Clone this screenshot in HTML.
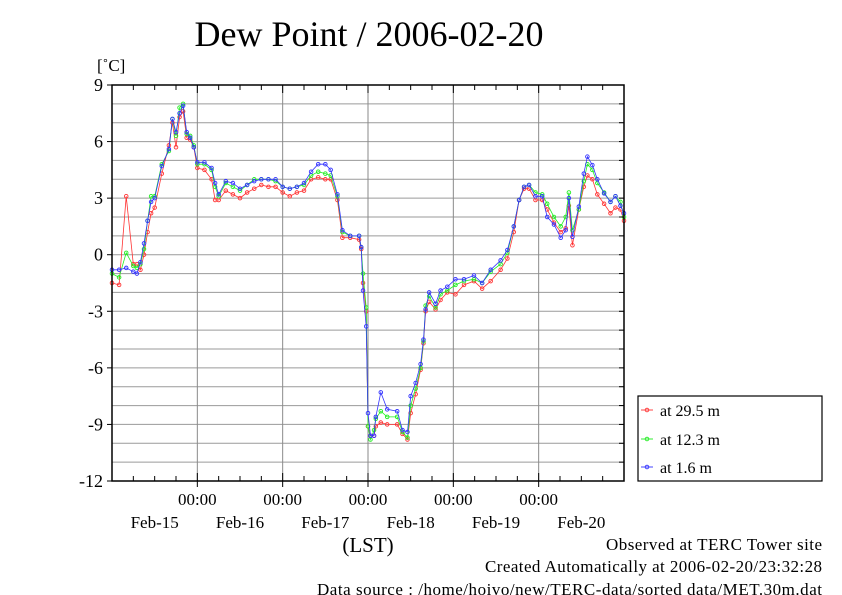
<!DOCTYPE html>
<html><head><meta charset="utf-8"><style>
body{margin:0;background:#fff;}
svg{display:block;font-family:"Liberation Serif",serif;}
</style></head><body>
<svg id="chart" width="842" height="595" viewBox="0 0 842 595" xmlns="http://www.w3.org/2000/svg">
<rect width="842" height="595" fill="#fff"/>
<text x="369" y="46" font-size="36" text-anchor="middle">Dew Point / 2006-02-20</text>
<text x="97" y="71" font-size="17">[˚C]</text>
<g id="grid"></g>
<g id="series"></g>
<rect x="112" y="85" width="512" height="396" fill="none" stroke="#000" stroke-width="1.5"/>
<g id="axes"></g>
<text x="368" y="552" font-size="21" text-anchor="middle">(LST)</text>
<g>
<rect x="638" y="396" width="184" height="85" fill="#fff" stroke="#000" stroke-width="1.2"/>
<g><line x1="641" y1="410" x2="653" y2="410" stroke="#f44"/><circle cx="647" cy="410" r="1.8" fill="none" stroke="#f44"/><text x="660" y="416" font-size="16">at 29.5 m</text></g>
<g><line x1="641" y1="439" x2="653" y2="439" stroke="#3e3"/><circle cx="647" cy="439" r="1.8" fill="none" stroke="#3e3"/><text x="660" y="445" font-size="16">at 12.3 m</text></g>
<g><line x1="641" y1="467" x2="653" y2="467" stroke="#44f"/><circle cx="647" cy="467" r="1.8" fill="none" stroke="#44f"/><text x="660" y="473" font-size="16">at 1.6 m</text></g>
</g>
<g font-size="17" text-anchor="end" style="white-space:pre">
<text x="822" y="550" textLength="216">Observed at TERC Tower site</text>
<text x="822" y="572" textLength="337">Created Automatically at 2006-02-20/23:32:28</text>
<text x="822" y="595" textLength="505">Data source : /home/hoivo/new/TERC-data/sorted  data/MET.30m.dat</text>
</g>
</svg>
<script>
const hours=[0,2,4,6,7,8,9,10,11,12,14,16,17,18,19,20,21,22,23,24,26,28,29,30,32,34,36,38,40,42,44,46,48,50,52,54,56,58,60,61.5,63.4,64.8,67,69.5,70.1,70.6,71.5,72,72.7,73.7,74.2,75.6,77.4,80.2,81.7,83.1,84,85.4,86.8,87.6,88.2,89.2,91,92.4,94.3,96.6,99,101.8,104.1,106.5,109.3,111.2,113,114.5,115.9,117.3,119.1,121,122.4,124.3,126.2,127.6,128.5,129.5,131.3,132.7,133.7,135.1,136.5,138.4,140.2,141.6,143,144];
const red=[-1.5,-1.6,3.1,-0.5,-0.5,-0.8,0.0,1.2,2.2,2.5,4.3,5.8,7.0,5.7,7.3,7.6,6.2,6.1,5.7,4.6,4.5,4.0,2.9,2.9,3.4,3.2,3.0,3.3,3.5,3.7,3.6,3.6,3.3,3.1,3.3,3.4,4.0,4.1,4.0,4.0,2.9,0.9,0.9,0.8,0.3,-1.5,-3.0,-9.1,-9.6,-9.6,-9.1,-8.9,-9.0,-9.0,-9.5,-9.8,-8.4,-7.4,-6.1,-4.7,-3.0,-2.5,-2.9,-2.4,-2.0,-2.1,-1.6,-1.4,-1.8,-1.4,-0.8,-0.2,1.2,2.9,3.5,3.5,2.9,2.9,2.4,1.7,1.2,1.4,2.6,0.5,2.4,3.6,4.2,4.0,3.2,2.7,2.2,2.5,2.4,1.8];
const green=[-1.0,-1.2,0.1,-0.6,-0.7,-0.5,0.3,1.8,3.1,3.1,4.8,5.5,7.2,6.3,7.8,8.0,6.4,6.3,5.8,4.8,4.8,4.5,3.6,3.1,3.8,3.6,3.4,3.7,4.0,4.0,4.0,3.9,3.6,3.5,3.6,3.7,4.2,4.4,4.3,4.2,3.1,1.2,1.0,1.0,0.4,-1.0,-2.8,-9.1,-9.8,-9.3,-8.7,-8.3,-8.6,-8.6,-9.4,-9.7,-8.0,-7.1,-6.0,-4.6,-2.7,-2.2,-2.8,-2.1,-1.9,-1.6,-1.4,-1.3,-1.5,-0.9,-0.5,0.1,1.5,2.9,3.6,3.7,3.3,3.2,2.7,2.0,1.5,2.0,3.3,1.3,2.4,3.9,4.8,4.5,3.8,3.3,2.8,3.1,2.8,2.0];
const blue=[-0.8,-0.8,-0.7,-0.9,-1.0,-0.4,0.6,1.8,2.8,3.0,4.7,5.6,7.2,6.5,7.5,7.9,6.5,6.2,5.7,4.9,4.9,4.6,3.8,3.2,3.9,3.8,3.5,3.7,3.9,4.0,4.0,4.0,3.6,3.5,3.6,3.8,4.4,4.8,4.8,4.5,3.2,1.3,1.0,1.0,0.4,-1.9,-3.8,-8.4,-9.6,-9.6,-8.6,-7.3,-8.2,-8.3,-9.3,-9.4,-7.5,-6.8,-5.8,-4.5,-2.9,-2.0,-2.6,-1.9,-1.7,-1.3,-1.3,-1.1,-1.5,-0.8,-0.3,0.25,1.5,2.9,3.6,3.7,3.1,3.1,2.0,1.6,0.9,1.3,3.0,0.95,2.55,4.3,5.2,4.75,4.0,3.25,2.8,3.1,2.6,2.2];
const yTicks=[9,6,3,0,-3,-6,-9,-12];
const dayLabels=["Feb-15","Feb-16","Feb-17","Feb-18","Feb-19","Feb-20"];
const midnightLabels=["00:00","00:00","00:00","00:00","00:00"];

const X0=112,X1=624,Y0=85,Y1=481,TMAX=144,VMIN=-12,VMAX=9;
const xs=t=>X0+(X1-X0)*t/TMAX;
const ys=v=>Y1-(Y1-Y0)*(v-VMIN)/(VMAX-VMIN);
const NS="http://www.w3.org/2000/svg";
function mk(tag,attrs,parent){const e=document.createElementNS(NS,tag);for(const k in attrs)e.setAttribute(k,attrs[k]);parent.appendChild(e);return e;}
const grid=document.getElementById('grid'),axes=document.getElementById('axes'),ser=document.getElementById('series');
for(let v=VMIN+1;v<VMAX;v++){
  const l=mk('line',{x1:X0,x2:X1,y1:ys(v),y2:ys(v),stroke:'#9a9a9a','stroke-width':1},grid);
  
  
  const tk=mk('line',{x1:X1-5,x2:X1,y1:ys(v),y2:ys(v),stroke:'#000'},axes);
  
  
}
midnightLabels.forEach((s,i)=>{
  const t=(i+1)*24;
  const l=mk('line',{x1:xs(t),x2:xs(t),y1:Y0,y2:Y1,stroke:'#8a8a8a','stroke-width':1},grid);
  
  
  const tx=mk('text',{x:xs(t),y:505,'font-size':17,'text-anchor':'middle'},axes);tx.textContent=s;
  
  
});
dayLabels.forEach((s,i)=>{
  const tx=mk('text',{x:xs(i*24+12),y:528,'font-size':17,'text-anchor':'middle'},axes);tx.textContent=s;
  
  
});
for(let t=6;t<TMAX;t+=6){
  const len=(t%24===0)?8:5;
  const a=mk('line',{x1:xs(t),x2:xs(t),y1:Y0,y2:Y0+len,stroke:'#000'},axes);
  
  
  const b=mk('line',{x1:xs(t),x2:xs(t),y1:Y1,y2:Y1-len,stroke:'#000'},axes);
  
  
  if(t%24===0){const c=mk('line',{x1:xs(t),x2:xs(t),y1:Y1,y2:Y1+6,stroke:'#000'},axes);
  
  }
}
yTicks.forEach(v=>{
  const tx=mk('text',{x:103,y:ys(v)+6,'font-size':18,'text-anchor':'end'},axes);tx.textContent=String(v);
  
  
  const tk=mk('line',{x1:X0-5,x2:X0,y1:ys(v),y2:ys(v),stroke:'#000'},axes);
  
  
});
[[red,'#f33','series-29-5m'],[green,'#2e2','series-12-3m'],[blue,'#33f','series-1-6m']].forEach(([vals,col,name])=>{
  const g=mk('g',{},ser);
  
  
  const pts=hours.map((t,i)=>xs(t).toFixed(1)+','+ys(vals[i]).toFixed(1)).join(' ');
  const pl=mk('polyline',{points:pts,fill:'none',stroke:col,'stroke-width':0.8},g);
  
  
  hours.forEach((t,i)=>{
    const c=mk('circle',{cx:xs(t),cy:ys(vals[i]),r:1.8,fill:'none',stroke:col,'stroke-width':0.9},g);
    
    
  });
});
</script>
</body></html>
